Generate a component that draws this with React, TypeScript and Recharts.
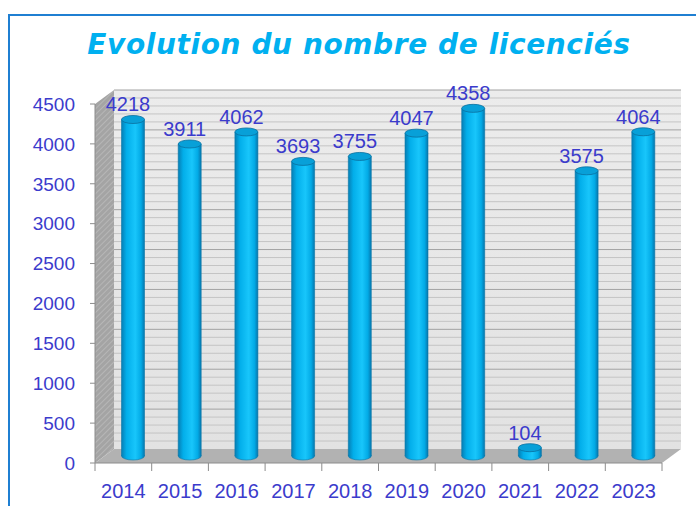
import React from 'react';
import { BarChart, Bar, XAxis, YAxis, LabelList, ReferenceArea } from 'recharts';

const years = ['2014', '2015', '2016', '2017', '2018', '2019', '2020', '2021', '2022', '2023'];
const licencies = [4218, 3911, 4062, 3693, 3755, 4047, 4358, 104, 3575, 4064];
const yTicks = [0, 500, 1000, 1500, 2000, 2500, 3000, 3500, 4000, 4500];
const gridValues = Array.from({ length: 45 }, (_, i) => (i + 1) * 100);
const Y_MAX = 4500;

const data = years.map((year, i) => ({ year, value: licencies[i] }));

// 3D depth of the plot box
const DX = 19;
const DY = 14;
const TEXT = '#3b3bcc';
const FONT = 'Arial, "Liberation Sans", sans-serif';

// back wall, side wall and floor; the area spans 0..Y_MAX so grid rows map linearly onto it
const Walls = (props: any) => {
  const { x, y, width, height } = props;
  const bottom = y + height;
  return (
    <g>
      <defs>
        <pattern id="hatch" width="4" height="4" patternUnits="userSpaceOnUse" patternTransform="rotate(45)">
          <rect width="4" height="4" fill="#a4a4a4" />
          <line x1="0" y1="0" x2="0" y2="4" stroke="#c2c2c2" strokeWidth="1.2" />
        </pattern>
        <linearGradient id="backWall" x1="0" y1="0" x2="0" y2="1">
          <stop offset="0" stopColor="#ececec" />
          <stop offset="1" stopColor="#e2e2e2" />
        </linearGradient>
      </defs>
      <rect x={x + DX} y={y - DY} width={width} height={height} fill="url(#backWall)" />
      {gridValues.map((v) => {
        const gy = bottom - (v / Y_MAX) * height - DY;
        return (
          <line
            key={v}
            x1={x + DX}
            x2={x + width + DX}
            y1={gy}
            y2={gy}
            stroke={v % 500 === 0 ? '#a2a2a2' : '#c4c4c4'}
            strokeWidth={1}
          />
        );
      })}
      <polygon
        points={`${x},${y} ${x + DX},${y - DY} ${x + DX},${bottom - DY} ${x},${bottom}`}
        fill="url(#hatch)"
      />
      <polygon
        points={`${x},${bottom} ${x + DX},${bottom - DY} ${x + width + DX},${bottom - DY} ${x + width},${bottom}`}
        fill="#b2b2b2"
      />
    </g>
  );
};

const Cylinder = (props: any) => {
  const { x, y, width, height } = props;
  const rx = width / 2;
  const ry = 4;
  const cx = x + rx + DX / 2;
  const top = y - DY / 2;
  const base = y + height - DY / 2;
  return (
    <g>
      <ellipse cx={cx} cy={base} rx={rx} ry={ry} fill="url(#cylBody)" stroke="#0a78aa" strokeWidth={0.6} />
      <rect x={cx - rx} y={top} width={width} height={Math.max(base - top, 0)} fill="url(#cylBody)" />
      <line x1={cx - rx} y1={top} x2={cx - rx} y2={base} stroke="#0a78aa" strokeWidth={0.6} />
      <line x1={cx + rx} y1={top} x2={cx + rx} y2={base} stroke="#0a78aa" strokeWidth={0.6} />
      <ellipse cx={cx} cy={top} rx={rx} ry={ry} fill="#08a0d8" stroke="#0a70a0" strokeWidth={0.8} />
    </g>
  );
};

const ValueLabel = (props: any) => {
  const { x, y, width, value } = props;
  const cx = x + width / 2 + DX / 2 - 5;
  return (
    <text x={cx} y={y - DY / 2 - 8} textAnchor="middle" fill={TEXT} fontSize={20} fontFamily={FONT}>
      {value}
    </text>
  );
};

const XTick = (props: any) => {
  const { x, y, payload, index } = props;
  const half = payload && payload.offset ? payload.offset : 28.35;
  return (
    <g>
      <line x1={x - half} y1={y - 8} x2={x - half} y2={y} stroke="#8c8c8c" />
      {index === years.length - 1 && <line x1={x + half} y1={y - 8} x2={x + half} y2={y} stroke="#8c8c8c" />}
      <text x={x} y={y + 27} textAnchor="middle" fill={TEXT} fontSize={20} fontFamily={FONT}>
        {payload.value}
      </text>
    </g>
  );
};

export default function App() {
  return (
    <div style={{ position: 'absolute', left: 0, top: 0, width: 696, height: 506, background: '#fff', overflow: 'hidden' }}>
      <div
        style={{
          position: 'absolute',
          left: 8,
          top: 14,
          width: 720,
          height: 520,
          border: '2px solid #1f7fd2',
          boxSizing: 'border-box',
        }}
      />
      <div
        style={{
          position: 'absolute',
          left: 0,
          top: 29,
          width: 718,
          textAlign: 'center',
          fontFamily: '"DejaVu Sans", Verdana, sans-serif',
          fontWeight: 'bold',
          fontStyle: 'italic',
          fontSize: 28,
          letterSpacing: 0.6,
          color: '#00b0f0',
          lineHeight: '32px',
        }}
      >
        Evolution du nombre de licenciés
      </div>
      <div style={{ position: 'absolute', left: 0, top: 0 }}>
        <BarChart width={696} height={506} data={data} margin={{ top: 104, right: 34, left: 35, bottom: 13 }}>
          <defs>
            <linearGradient id="cylBody" x1="0" y1="0" x2="1" y2="0">
              <stop offset="0" stopColor="#067eb4" />
              <stop offset="0.22" stopColor="#02aeea" />
              <stop offset="0.6" stopColor="#18c6fb" />
              <stop offset="0.85" stopColor="#02aae6" />
              <stop offset="1" stopColor="#0676ac" />
            </linearGradient>
          </defs>
          <ReferenceArea y1={0} y2={Y_MAX} shape={<Walls />} ifOverflow="visible" />
          <XAxis
            dataKey="year"
            height={30}
            axisLine={{ stroke: '#8c8c8c' }}
            tickLine={false}
            tick={<XTick />}
            interval={0}
          />
          <YAxis
            domain={[0, Y_MAX]}
            ticks={yTicks}
            width={60}
            axisLine={{ stroke: '#8c8c8c' }}
            tickLine={{ stroke: '#8c8c8c' }}
            tickSize={5}
            tickMargin={15}
            tick={{ fill: TEXT, fontSize: 19, fontFamily: FONT }}
            interval={0}
          />
          <Bar dataKey="value" barSize={23} shape={<Cylinder />} isAnimationActive={false}>
            <LabelList dataKey="value" content={<ValueLabel />} />
          </Bar>
        </BarChart>
      </div>
    </div>
  );
}
